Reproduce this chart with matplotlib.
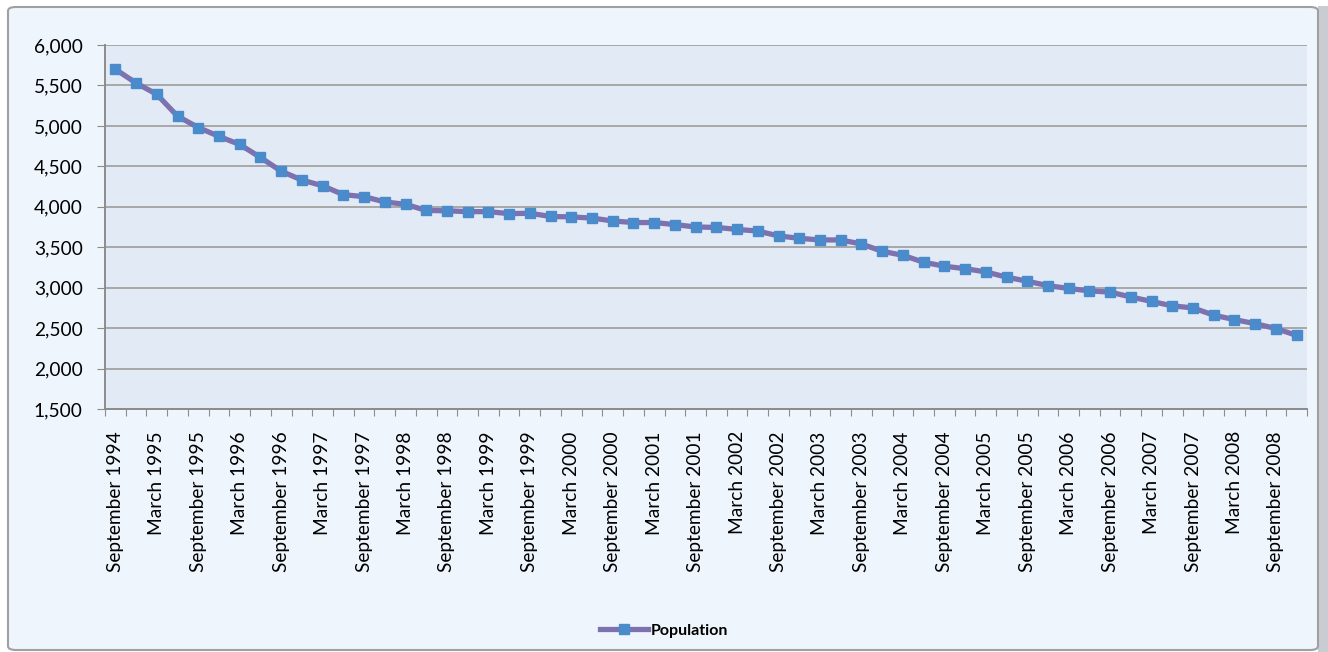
import numpy as np
import matplotlib
matplotlib.use("Agg")
import matplotlib.pyplot as plt
from matplotlib.patches import FancyBboxPatch
from matplotlib.ticker import FuncFormatter

plt.rcParams['font.family'] = ['Lato', 'DejaVu Sans']

# quarterly categories, September 1994 .. December 2008
months = ['September', 'December', 'March', 'June']
years = [1994, 1994, 1995, 1995, 1995, 1995, 1996, 1996, 1996, 1996,
         1997, 1997, 1997, 1997, 1998, 1998, 1998, 1998, 1999, 1999,
         1999, 1999, 2000, 2000, 2000, 2000, 2001, 2001, 2001, 2001,
         2002, 2002, 2002, 2002, 2003, 2003, 2003, 2003, 2004, 2004,
         2004, 2004, 2005, 2005, 2005, 2005, 2006, 2006, 2006, 2006,
         2007, 2007, 2007, 2007, 2008, 2008, 2008, 2008]
quarters = [months[i % 4] + ' ' + str(y) for i, y in enumerate(years)]

population = [5700, 5530, 5390, 5120, 4980, 4870, 4770, 4610, 4440, 4330,
              4260, 4150, 4125, 4060, 4030, 3955, 3950, 3940, 3940, 3915,
              3920, 3880, 3875, 3860, 3825, 3805, 3805, 3780, 3750, 3745,
              3720, 3700, 3640, 3610, 3590, 3590, 3540, 3450, 3400, 3315,
              3265, 3235, 3195, 3130, 3080, 3025, 2990, 2960, 2945, 2885,
              2830, 2775, 2750, 2660, 2605, 2555, 2495, 2410]

W, H = 1328, 652
fig = plt.figure(figsize=(W / 100, H / 100), dpi=100)
fig.patch.set_facecolor('white')

# chart area frame
frame = FancyBboxPatch((8 / W, 2 / H), 1310 / W, 643 / H,
                       boxstyle="round,pad=0,rounding_size=0.006",
                       transform=fig.transFigure, facecolor='#EEF5FC',
                       edgecolor='#A0A0A0', linewidth=1.5, zorder=-2)
fig.patches.append(frame)
fig.patches.append(plt.Rectangle((1318 / W, 0), 10 / W, 646 / H,
                                 transform=fig.transFigure,
                                 facecolor='#C9CDD3', edgecolor='none',
                                 zorder=-3))

ax = fig.add_axes([105 / W, 1 - 409 / H, 1202 / W, 364 / H])
ax.set_facecolor('#E2EAF5')

x = np.arange(len(population))
ax.plot(x, population, color='#7D72B0', linewidth=3.8, marker='s',
        markersize=7, markerfacecolor='#4A8BCB', markeredgecolor='#4A8BCB',
        label='Population', zorder=3)

ax.set_xlim(-0.5, len(population) - 0.5)
ax.set_ylim(1500, 6000)
ax.set_yticks(np.arange(1500, 6001, 500))
ax.yaxis.set_major_formatter(FuncFormatter(lambda v, p: f'{int(v):,}'))
ax.grid(axis='y', color='#A8A8A8', linewidth=1.4)
ax.set_axisbelow(True)

# tick marks at category boundaries, labels on every other category
ax.set_xticks(np.arange(-0.5, len(population), 1.0))
ax.set_xticklabels([])
ax.set_xticks(x[::2], minor=True)
ax.set_xticklabels(quarters[::2], minor=True, rotation=90, fontsize=13.8,
                   va='top')
ax.tick_params(axis='x', which='major', direction='out', length=5,
               color='#8C8C8C')
ax.tick_params(axis='x', which='minor', length=0, pad=16)
ax.tick_params(axis='y', direction='out', length=6, color='#8C8C8C',
               labelsize=13.8, pad=10)

for s in ['top', 'right']:
    ax.spines[s].set_visible(False)
for s in ['left', 'bottom']:
    ax.spines[s].set_color('#8C8C8C')
    ax.spines[s].set_linewidth(1.4)

leg = fig.legend(loc='center', bbox_to_anchor=(0.5, 1 - 631 / H),
                 frameon=False, handlelength=3.0, handletextpad=0.2,
                 prop={'weight': 'bold', 'size': 11.5})

fig.savefig('out.png', dpi=100)
